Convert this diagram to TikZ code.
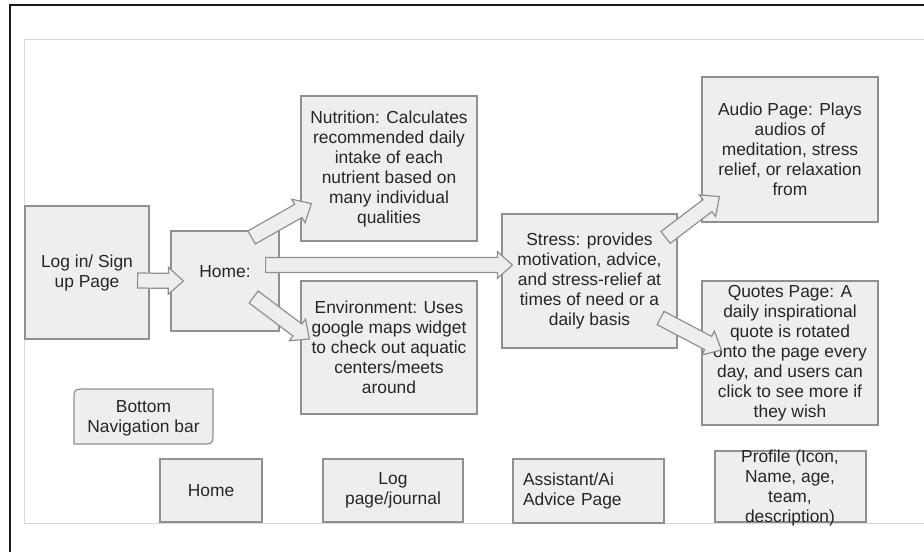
\documentclass[tikz,border=0pt]{standalone}
\usepackage{fontspec}
\setmainfont{Liberation Sans}
\usetikzlibrary{calc}

\definecolor{boxfill}{HTML}{EEEEEE}
\definecolor{boxline}{HTML}{909090}
\definecolor{txtgray}{HTML}{262626}
\definecolor{panelline}{HTML}{DADADA}

\newcommand{\blockarrow}[2]{%
  \draw[arrowbox] let \p1=(#1), \p2=(#2), \p3=($(\p2)!15pt!(\p1)$),
    \n1={atan2(\y2-\y1,\x2-\x1)} in
    ($(\p1)+(\n1+90:7.5pt)$) -- ($(\p3)+(\n1+90:7.5pt)$) -- ($(\p3)+(\n1+90:13.5pt)$)
    -- (\p2) -- ($(\p3)+(\n1-90:13.5pt)$) -- ($(\p3)+(\n1-90:7.5pt)$)
    -- ($(\p1)+(\n1-90:7.5pt)$) -- cycle;}

\begin{document}
\begin{tikzpicture}[x=1pt, y=-1pt,
  pagebox/.style={draw=boxline, line width=1.2pt, fill=boxfill, inner sep=0pt,
    align=center, text=txtgray, font=\fontsize{17.4}{20}\selectfont},
  pagetext/.style={inner sep=0pt, align=center, text=txtgray,
    font=\fontsize{17.4}{20}\selectfont},
  arrowbox/.style={draw=boxline, line width=1.2pt, fill=boxfill}]
                    \useasboundingbox (0,0) rectangle (924,552);
                    \draw[panelline, line width=1pt] (924,39) -- (24,39) -- (24,523) -- (924,523);
                    \draw[black!90, line width=1.5pt] (924,5) -- (10,5) -- (10,552);

                    % flow of pages
                    \node[pagebox, minimum width=124, minimum height=133] (login) at (87,272.5) {Log in/ Sign\\up Page};
                    \node[pagebox, minimum width=108, minimum height=100] (home) at (225,281) {};
                    \node[pagetext] (hometext) at (225,272) {Home:};
                    \node[pagebox, minimum width=176, minimum height=145] (nutrition) at (389,168.5) {Nutrition: Calculates\\recommended daily\\intake of each\\nutrient based on\\many individual\\qualities};
                    \node[pagebox, minimum width=176, minimum height=133] (environment) at (389,347.5) {Environment: Uses\\google maps widget\\to check out aquatic\\centers/meets\\around};
                    \node[pagebox, minimum width=175, minimum height=134] (stress) at (589.5,281) {Stress: provides\\motivation, advice,\\and stress-relief at\\times of need or a\\daily basis};
                    \node[pagebox, minimum width=176, minimum height=145] (audio) at (790,149.5) {Audio Page: Plays\\audios of\\meditation, stress\\relief, or relaxation\\from};
                    \node[pagebox, minimum width=176, minimum height=144] (quotes) at (790,353) {Quotes Page: A\\daily inspirational\\quote is rotated\\onto the page every\\day, and users can\\click to see more if\\they wish};

                    % navigation bar
                    \draw[draw=boxline, line width=1.2pt, fill=boxfill] (74,401) .. controls (74,389) .. (86,389) -- (213,389) -- (213,432) .. controls (213,444) .. (201,444) -- (74,444) -- cycle;
                    \node[pagetext] (navbar) at (143.5,418) {Bottom\\Navigation bar};
                    \node[pagebox, minimum width=102, minimum height=63] (navhome) at (211,490.5) {Home};
                    \node[pagebox, minimum width=140, minimum height=63] (navlog) at (393,490.5) {Log\\page/journal};
                    \node[pagebox, minimum width=151, minimum height=64, text width=131, inner xsep=10pt, align=left] (navai) at (588.5,491) {Assistant/Ai\\Advice Page};
                    \node[pagebox, minimum width=151, minimum height=71] (navprofile) at (790.5,486.5) {};
                    \node[pagetext] (profiletext) at (790,488) {Profile (Icon,\\Name, age,\\team,\\description)};

                    \blockarrow{$(login.east)+(-12,8)$}{$(home.west)+(13,0)$}
                    \blockarrow{$(home.north east)+(-28,7)$}{$(nutrition.south west)+(11,-38)$}
                    \blockarrow{$(home.east)+(-14,-16)$}{$(stress.west)+(11,-16)$}
                    \blockarrow{$(home.east)+(-26,16)$}{$(environment.west)+(9,-8.5)$}
                    \blockarrow{$(stress.north east)+(-12,24)$}{$(audio.south west)+(18,-26)$}
                    \blockarrow{$(stress.east)+(-17,37)$}{$(quotes.west)+(20,-3)$}
\end{tikzpicture}
\end{document}
